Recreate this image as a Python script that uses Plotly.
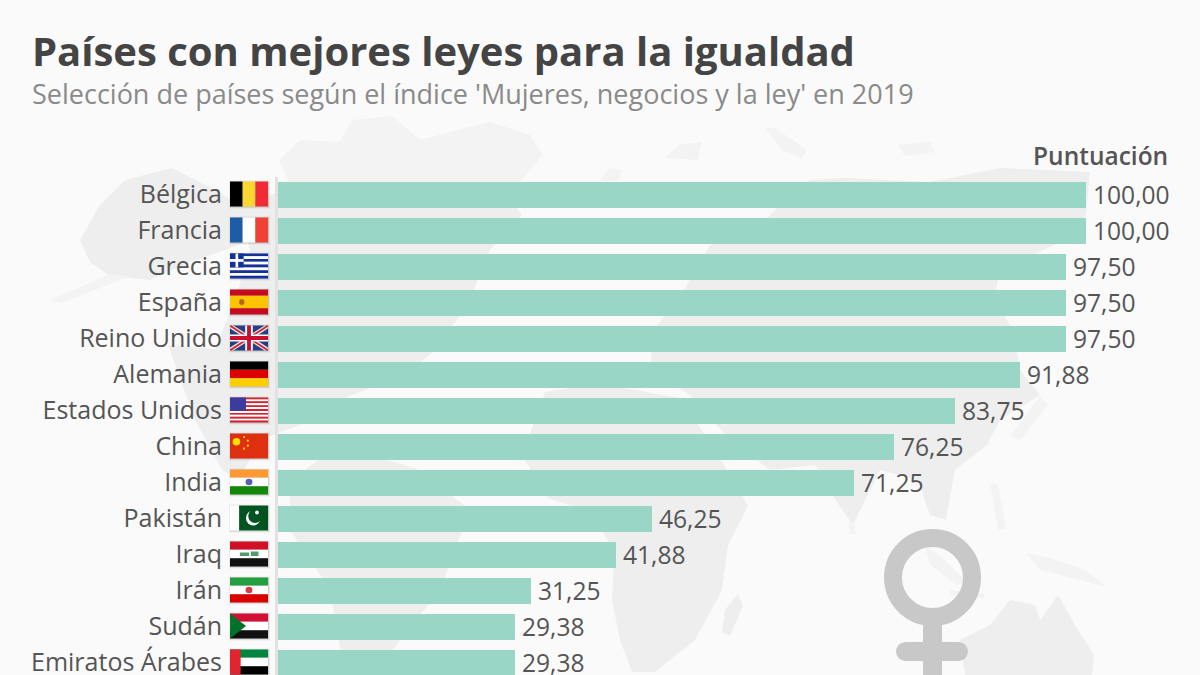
import plotly.graph_objects as go

# ==========================================
# DATA
# ==========================================
countries = ['Bélgica', 'Francia', 'Grecia', 'España', 'Reino Unido', 'Alemania', 'Estados Unidos',
             'China', 'India', 'Pakistán', 'Iraq', 'Irán', 'Sudán', 'Emiratos Árabes']
scores = [100.00, 100.00, 97.50, 97.50, 97.50, 91.88, 83.75, 76.25, 71.25, 46.25, 41.88, 31.25, 29.38, 29.38]
score_labels = [f"{v:.2f}".replace('.', ',') for v in scores]

title = 'Países con mejores leyes para la igualdad'
subtitle = "Selección de países según el índice 'Mujeres, negocios y la ley' en 2019"
column_header = 'Puntuación'

W, H = 1200, 675
BG = '#fafafa'
MAP = '#eeeeee'
MAP_FAINT = '#f3f3f3'
BAR = '#9ad6c5'
TEXT = '#555555'
FONT = 'Open Sans'

shapes = []


def px(x):
    return x / W


def py(y):
    return 1 - y / H


# ==========================================
# BACKGROUND MAP (rough outlines, page pixels)
# ==========================================
land = [
    # alaska
    [(90, 262), (80, 240), (100, 205), (125, 180), (172, 168), (215, 190), (240, 205), (250, 240),
     (225, 250), (190, 262), (150, 280), (110, 276)],
    # canada / usa
    [(240, 205), (300, 185), (400, 180), (500, 186), (522, 215), (490, 250), (470, 300), (440, 345), (410, 372),
     (340, 400), (290, 400), (225, 395), (215, 350), (235, 300), (250, 250)],
    # mexico / central america
    [(168, 345), (225, 350), (290, 392), (328, 396), (300, 425), (260, 440), (240, 478), (222, 470), (195, 420)],
    # south america
    [(290, 480), (340, 445), (420, 470), (470, 510), (440, 590), (400, 640), (375, 675), (345, 675), (330, 590),
     (290, 530)],
    # africa
    [(545, 392), (600, 384), (680, 398), (712, 445), (748, 506), (728, 545), (722, 590), (695, 640), (655, 672),
     (632, 672), (620, 640), (612, 600), (614, 550), (590, 512), (548, 498), (522, 455)],
    # madagascar
    [(738, 594), (743, 606), (730, 636), (722, 632), (725, 610)],
    # eurasia
    [(654, 330), (684, 290), (710, 245), (760, 225), (780, 205), (810, 180), (845, 178), (930, 182), (1000, 168),
     (1090, 172), (1086, 215), (1065, 240), (1000, 270), (994, 300), (1013, 330), (1020, 370), (1040, 395),
     (1000, 420), (987, 445), (955, 470), (946, 520), (930, 515), (918, 480), (880, 470), (853, 525), (832, 495),
     (815, 465), (770, 470), (730, 440), (690, 395), (650, 370)],
    # australia
    [(960, 640), (990, 625), (1010, 600), (1035, 605), (1040, 620), (1058, 595), (1075, 625), (1094, 655),
     (1092, 675), (965, 675)],
]
faint_land = [
    # aleutians
    [(50, 300), (110, 274), (130, 276), (62, 303)],
    # arctic islands
    [(279, 160), (300, 140), (340, 142), (352, 120), (392, 116), (420, 140), (450, 132), (490, 122), (530, 135),
     (543, 155), (520, 182), (400, 186), (290, 184)],
    # svalbard, novaya zemlya and other northern islands
    [(665, 158), (678, 145), (702, 142), (698, 160)],
    [(765, 128), (775, 128), (807, 150), (802, 158), (782, 150)],
    [(898, 145), (930, 142), (935, 152), (905, 156)],
    [(600, 180), (610, 168), (623, 170), (618, 181)],
    # japan, sri lanka, philippines
    [(1040, 396), (1048, 405), (1020, 440), (1010, 436)],
    [(848, 522), (854, 522), (856, 534), (850, 534)],
    [(990, 483), (998, 485), (1006, 528), (998, 530)],
    # indonesia
    [(925, 545), (945, 560), (965, 580), (958, 586), (930, 565)],
    [(950, 590), (985, 594), (984, 598), (950, 595)],
    [(1027, 553), (1050, 558), (1085, 570), (1107, 587), (1080, 580), (1040, 570)],
]
for group, color in [(land, MAP), (faint_land, MAP_FAINT)]:
    for outline in group:
        path = 'M ' + ' L '.join(f'{px(x):.4f},{py(y):.4f}' for x, y in outline) + ' Z'
        shapes.append(dict(type='path', xref='paper', yref='paper', path=path, fillcolor=color,
                           line_width=0, layer='below'))

# ==========================================
# VENUS SYMBOL
# ==========================================
GREY = '#c8c8c8'


def box(x0, y0, x1, y1, color, kind='rect', opacity=1, **kw):
    shapes.append(dict(type=kind, xref='paper', yref='paper', x0=px(x0), x1=px(x1), y0=py(y0), y1=py(y1),
                       fillcolor=color, line_width=0, opacity=opacity, layer='below', **kw))


box(923, 620, 942, 675, GREY)
box(905, 642, 959, 661, GREY)
box(896, 642, 915, 661, GREY, kind='circle')
box(949, 642, 968, 661, GREY, kind='circle')
shapes.append(dict(type='circle', xref='paper', yref='paper', x0=px(893), x1=px(972), y0=py(538), y1=py(617),
                   line=dict(color=GREY, width=18), fillcolor='rgba(0,0,0,0)', layer='below'))

# ==========================================
# FLAGS
# ==========================================
FX0, FX1 = 230, 268
FH = 25


def flag_rect(i, u0, v0, u1, v1, color, kind='rect'):
    # u, v are fractions of the flag, measured from its top left corner
    top = 181.5 + 36 * i
    box(FX0 + u0 * (FX1 - FX0), top + v0 * FH, FX0 + u1 * (FX1 - FX0), top + v1 * FH, color, kind=kind)


def flag_poly(i, points, color):
    top = 181.5 + 36 * i
    path = 'M ' + ' L '.join(f'{px(FX0 + u * (FX1 - FX0)):.4f},{py(top + v * FH):.4f}' for u, v in points) + ' Z'
    shapes.append(dict(type='path', xref='paper', yref='paper', path=path, fillcolor=color,
                       line_width=0, layer='below'))


def v_bands(i, colors):
    for k, c in enumerate(colors):
        flag_rect(i, k / len(colors), 0, (k + 1) / len(colors), 1, c)


def h_bands(i, colors):
    for k, c in enumerate(colors):
        flag_rect(i, 0, k / len(colors), 1, (k + 1) / len(colors), c)


# soft shadow under every flag
for i in range(len(countries)):
    top = 181.5 + 36 * i
    box(FX0 - 1, top - 1, FX1 + 2, top + FH + 2, '#000000', opacity=0.06)
    box(FX0, top, FX1 + 1, top + FH + 1, '#000000', opacity=0.12)

v_bands(0, ['#000000', '#fbd72f', '#ef2b33'])
v_bands(1, ['#1f5ca8', '#ffffff', '#ef4135'])

h_bands(2, ['#12329a' if k % 2 == 0 else '#ffffff' for k in range(9)])
flag_rect(2, 0, 0, 0.36, 5 / 9, '#12329a')
flag_rect(2, 0.145, 0, 0.215, 5 / 9, '#ffffff')
flag_rect(2, 0, 2 / 9, 0.36, 3 / 9, '#ffffff')

h_bands(3, ['#c60b1e', '#ffc400', '#ffc400', '#c60b1e'])
flag_rect(3, 0.24, 0.38, 0.38, 0.62, '#b5651d', kind='circle')

flag_rect(4, 0, 0, 1, 1, '#24407f')
flag_poly(4, [(0, 0), (0.09, 0), (1, 0.88), (1, 1), (0.91, 1), (0, 0.12)], '#f4dfe0')
flag_poly(4, [(1, 0), (0.91, 0), (0, 0.88), (0, 1), (0.09, 1), (1, 0.12)], '#f4dfe0')
flag_poly(4, [(0, 0), (0.04, 0), (1, 0.95), (1, 1), (0.96, 1), (0, 0.05)], '#c8283c')
flag_poly(4, [(1, 0), (0.96, 0), (0, 0.95), (0, 1), (0.04, 1), (1, 0.05)], '#c8283c')
flag_rect(4, 0.4, 0, 0.6, 1, '#ffffff')
flag_rect(4, 0, 0.36, 1, 0.64, '#ffffff')
flag_rect(4, 0.45, 0, 0.55, 1, '#c8102e')
flag_rect(4, 0, 0.42, 1, 0.58, '#c8102e')

h_bands(5, ['#000000', '#dd0000', '#ffce00'])

h_bands(6, ['#d8202f' if k % 2 == 0 else '#ffffff' for k in range(13)])
flag_rect(6, 0, 0, 0.42, 7 / 13, '#3c3b9e')

flag_rect(7, 0, 0, 1, 1, '#de2f10')
flag_rect(7, 0.07, 0.18, 0.27, 0.48, '#ffde00', kind='circle')
for u, v in [(0.34, 0.1), (0.44, 0.24), (0.44, 0.44), (0.34, 0.56)]:
    flag_rect(7, u, v, u + 0.06, v + 0.09, '#ffde00', kind='circle')

h_bands(8, ['#ff9933', '#ffffff', '#138808'])
flag_rect(8, 0.41, 0.37, 0.59, 0.63, '#5560b5', kind='circle')

flag_rect(9, 0, 0, 1, 1, '#ffffff')
flag_rect(9, 0.24, 0, 1, 1, '#01531f')
flag_rect(9, 0.42, 0.2, 0.8, 0.8, '#ffffff', kind='circle')
flag_rect(9, 0.48, 0.14, 0.84, 0.7, '#01531f', kind='circle')
flag_rect(9, 0.66, 0.2, 0.76, 0.36, '#ffffff', kind='circle')

h_bands(10, ['#ce1126', '#ffffff', '#111111'])
flag_rect(10, 0.26, 0.44, 0.5, 0.58, '#4f9d6f')
flag_rect(10, 0.55, 0.4, 0.75, 0.58, '#4f9d6f')

h_bands(11, ['#239f40', '#ffffff', '#da0000'])
flag_rect(11, 0.41, 0.37, 0.59, 0.63, '#d9384a', kind='circle')

h_bands(12, ['#d21034', '#ffffff', '#111111'])
flag_poly(12, [(0, 0), (0.42, 0.5), (0, 1)], '#007229')

h_bands(13, ['#00853f', '#ffffff', '#000000'])
flag_rect(13, 0, 0, 0.28, 1, '#e0252e')

# ==========================================
# BARS
# ==========================================
fig = go.Figure()
fig.add_trace(go.Bar(
    x=scores,
    y=countries,
    orientation='h',
    width=0.71,
    marker=dict(color=BAR, line_width=0),
    hoverinfo='x+y'
))

for country, score, label in zip(countries, scores, score_labels):
    fig.add_annotation(x=score, y=country, text=label, showarrow=False, xanchor='left', yanchor='middle',
                       xshift=5, yshift=0, font=dict(family=FONT, size=24.6, color=TEXT))

fig.add_annotation(xref='paper', yref='paper', x=px(32), y=py(94), text=subtitle, showarrow=False,
                   xanchor='left', yanchor='middle', xshift=-2, font=dict(family=FONT, size=27, color='#8a8a8a'))
fig.add_annotation(xref='paper', yref='paper', x=px(1168), y=py(156), text=column_header, showarrow=False,
                   xanchor='right', yanchor='middle', xshift=2, font=dict(family=FONT, size=24.5, color=TEXT, weight=600))

fig.update_layout(
    width=W,
    height=H,
    margin=dict(l=0, r=0, t=0, b=0),
    paper_bgcolor=BG,
    plot_bgcolor='rgba(0,0,0,0)',
    showlegend=False,
    bargap=0,
    shapes=shapes,
    title=dict(text=f'<b>{title}</b>', x=px(32), xref='paper', xanchor='left', y=py(52), yanchor='middle',
               font=dict(family=FONT, size=40, color='#444444'))
)

fig.update_xaxes(domain=[px(278), 1], range=[0, 922 / 8.08], visible=False)
fig.update_yaxes(
    domain=[0, py(176.5)],
    range=[-0.5 + (675 - 176.5) / 36, -0.5],
    type='category',
    categoryorder='array',
    categoryarray=countries,
    automargin=False,
    showgrid=False,
    zeroline=False,
    showline=True,
    linecolor='#e2e2e2',
    linewidth=3,
    ticks='',
    ticklabelstandoff=48,
    tickfont=dict(family=FONT, size=25, color=TEXT)
)

# page margin off so the chart fills the window
fig.write_html("out.html", config={'displayModeBar': False},
               post_script="document.body.style.margin='0';")
